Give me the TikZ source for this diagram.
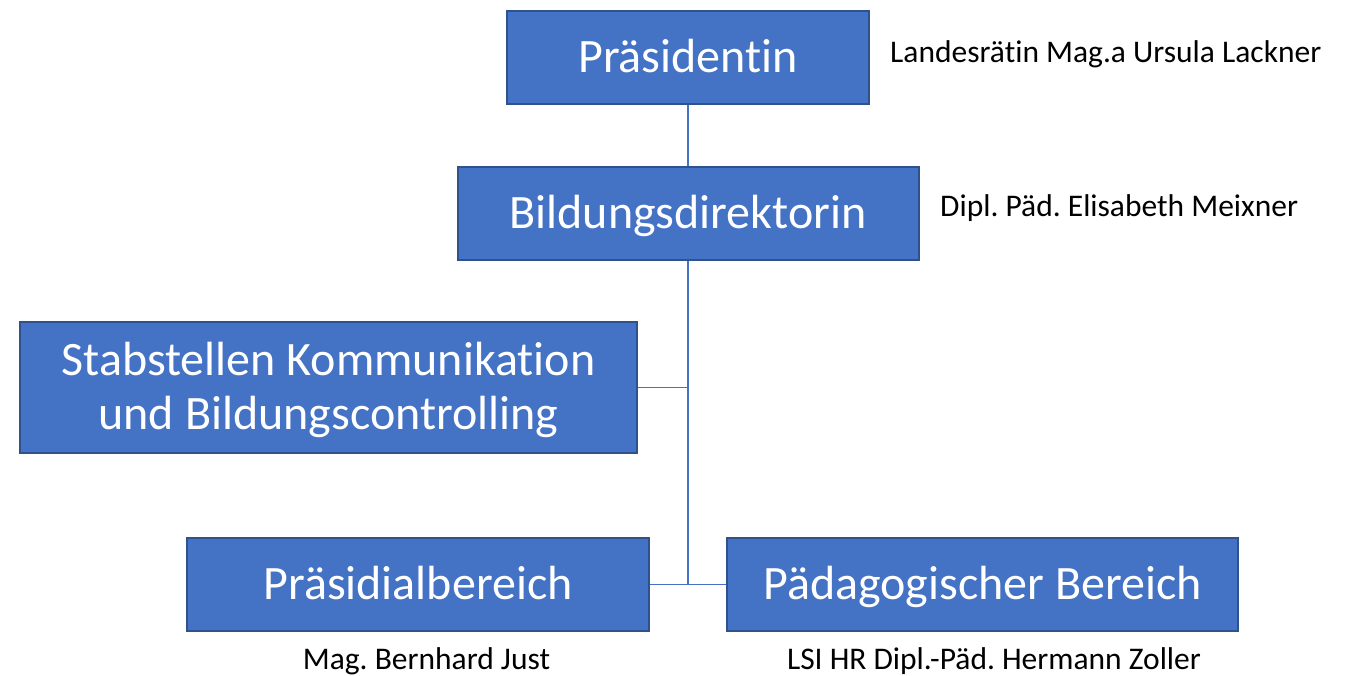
\documentclass[tikz,border=0pt]{standalone}
\usepackage{fontspec}
\setmainfont{Carlito}[Ligatures=NoCommon]
\definecolor{boxfill}{HTML}{4472C4}
\definecolor{boxline}{HTML}{2F528F}
\definecolor{conn}{HTML}{4472C4}
\frenchspacing
\begin{document}
\begin{tikzpicture}[x=1pt,y=-1pt,
  box/.style={draw=boxline,fill=boxfill,line width=2pt,text=white,inner sep=0pt,align=center,
    font=\fontsize{48}{54}\selectfont,text depth=6pt},
  onebox/.style={box,text height=36pt},
  lbl/.style={inner sep=0pt,font=\fontsize{31.5}{36}\selectfont,text=black},
  conline/.style={draw=conn,line width=1.2pt}]
\useasboundingbox (0,0) rectangle (1347,676);
\node[onebox,minimum width=362pt,minimum height=93pt] (pres) at (688,57.5) {Präsidentin};
\node[onebox,minimum width=461pt,minimum height=93pt] (bild) at (688,213.5) {Bildungsdirektorin};
\node[box,minimum width=617pt,minimum height=131pt,text height=90pt,text depth=7pt] (stab) at (328.5,387.5) {Stabstellen Kommunikation\\und Bildungscontrolling};
\node[onebox,minimum width=462pt,minimum height=93pt] (prae) at (418,584.5) {Präsidialbereich};
\node[onebox,minimum width=511pt,minimum height=93pt] (paed) at (982.5,584.5) {Pädagogischer Bereich};
\node[lbl,anchor=west] (l1) at (890,54) {Landesrätin Mag.a Ursula Lackner};
\node[lbl,anchor=west] (l2) at (940,208) {Dipl. Päd. Elisabeth Meixner};
\node[lbl] (l3) at (426.5,661) {Mag. Bernhard Just};
\node[lbl] (l4) at (994,661) {LSI HR Dipl.-Päd. Hermann Zoller};
\draw[conline] (pres.south) -- (bild.north);
\draw[conline] (bild.south) -- (bild.south |- prae.east);
\draw[conline] (stab.east) -- (stab.east -| bild.south);
\draw[conline] (prae.east) -- (paed.west);
\end{tikzpicture}
\end{document}
